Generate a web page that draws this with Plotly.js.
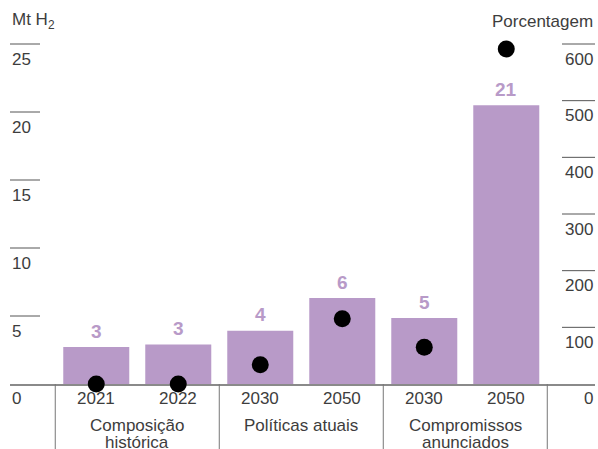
<!DOCTYPE html>
<html>
<head>
<meta charset="utf-8">
<script src="https://cdn.plot.ly/plotly-3.0.1.min.js"></script>
<style>html,body{margin:0;padding:0;background:#fff}#chart{width:598px;height:449px}</style>
</head>
<body>
<div id="chart"></div>
<script>
// ---- data ----
var years = ["2021", "2022", "2030", "2050", "2030", "2050"];
var groups = [["Composição", "histórica"], ["Políticas atuais"], ["Compromissos", "anunciados"]];
var groupSizes = [2, 2, 2];
var hydrogenMt = [2.72, 2.91, 3.92, 6.32, 4.85, 20.5];
var hydrogenLabels = ["3", "3", "4", "6", "5", "21"];
var percentage = [0, 0, 34, 115, 65, 591];
var leftTicks = [5, 10, 15, 20, 25];
var rightTicks = [100, 200, 300, 400, 500, 600];
var leftTitle = "Mt H<sub>2</sub>";
var rightTitle = "Porcentagem";

// ---- style ----
var FONT = "Liberation Sans, Arial, sans-serif";
var TXT = "#3d3d3d";
var PURPLE = "#b89ac8";
var FS = 17;
var idx = years.map(function (_, i) { return i; });

var traces = [
  {
    type: "bar", x: idx, y: hydrogenMt, width: 0.805,
    marker: { color: PURPLE, line: { width: 0 } },
    hoverinfo: "skip", showlegend: false
  },
  {
    type: "scatter", mode: "markers", x: idx, y: percentage, yaxis: "y2",
    marker: { color: "#000", size: 17 }, cliponaxis: false,
    hoverinfo: "skip", showlegend: false
  }
];

var shapes = [], annotations = [];

leftTicks.forEach(function (v) {
  shapes.push({ type: "line", xref: "paper", yref: "y", x0: 0, x1: 30 / 585, y0: v, y1: v, line: { color: "#555", width: 1 } });
  annotations.push({ xref: "paper", yref: "y", x: 0, y: v, xanchor: "left", yanchor: "middle", yshift: -15, text: String(v), showarrow: false, font: { family: FONT, size: FS, color: TXT } });
});
annotations.push({ xref: "paper", yref: "y", x: 0, y: 0, xanchor: "left", yanchor: "middle", yshift: -14, text: "0", showarrow: false, font: { family: FONT, size: FS, color: TXT } });

rightTicks.forEach(function (v) {
  shapes.push({ type: "line", xref: "paper", yref: "y2", x0: 1 - 33 / 585, x1: 1, y0: v, y1: v, line: { color: "#555", width: 1 } });
  annotations.push({ xref: "paper", yref: "y2", x: 1, y: v, xanchor: "right", yanchor: "middle", yshift: -15, text: String(v), showarrow: false, font: { family: FONT, size: FS, color: TXT } });
});
annotations.push({ xref: "paper", yref: "y2", x: 1, y: 0, xanchor: "right", yanchor: "middle", yshift: -14, text: "0", showarrow: false, font: { family: FONT, size: FS, color: TXT } });

// year labels and value labels
years.forEach(function (yr, i) {
  annotations.push({ xref: "x", yref: "y", x: i, y: 0, yanchor: "middle", yshift: -14, text: yr, showarrow: false, font: { family: FONT, size: FS, color: TXT } });
  annotations.push({ xref: "x", yref: "y", x: i, y: hydrogenMt[i], yanchor: "middle", yshift: 16, text: "<b>" + hydrogenLabels[i] + "</b>", showarrow: false, font: { family: FONT, size: 19, color: PURPLE } });
});

// group labels + dividers
var start = 0;
groups.forEach(function (lines, g) {
  var center = start + (groupSizes[g] - 1) / 2;
  lines.forEach(function (ln, k) {
    annotations.push({ xref: "x", yref: "y", x: center, y: 0, yanchor: "middle", yshift: -41 - 17 * k, text: ln, showarrow: false, font: { family: FONT, size: FS, color: TXT } });
  });
  shapes.push({ type: "line", xref: "x", yref: "paper", x0: start - 0.5, x1: start - 0.5, y0: 0, y1: -0.2, line: { color: "#777", width: 1 } });
  start += groupSizes[g];
});
shapes.push({ type: "line", xref: "x", yref: "paper", x0: start - 0.5, x1: start - 0.5, y0: 0, y1: -0.2, line: { color: "#777", width: 1 } });

annotations.push({ xref: "paper", yref: "paper", x: 0, y: 1, xanchor: "left", yanchor: "middle", yshift: 14, text: leftTitle, showarrow: false, font: { family: FONT, size: FS, color: TXT } });
annotations.push({ xref: "paper", yref: "paper", x: 1, y: 1, xanchor: "right", yanchor: "middle", yshift: 14, text: rightTitle, showarrow: false, font: { family: FONT, size: FS, color: TXT } });

var layout = {
  width: 598, height: 449,
  margin: { l: 10, r: 3, t: 35, b: 65, pad: 0 },
  paper_bgcolor: "#fff", plot_bgcolor: "#fff",
  showlegend: false,
  xaxis: {
    range: [-1.052, 6.082], showgrid: false, zeroline: false, showticklabels: false, ticks: "",
    showline: true, linecolor: "#8a8a8a", linewidth: 1.5, layer: "below traces", fixedrange: true
  },
  yaxis: { range: [0, 25 * 349 / 340], showgrid: false, zeroline: false, showticklabels: false, ticks: "", showline: false, fixedrange: true },
  yaxis2: { range: [0, 600 * 349 / 340], overlaying: "y", side: "right", showgrid: false, zeroline: false, showticklabels: false, ticks: "", showline: false, fixedrange: true },
  shapes: shapes,
  annotations: annotations,
  font: { family: FONT, color: TXT }
};

Plotly.newPlot("chart", traces, layout, { staticPlot: true, displayModeBar: false });
</script>
</body>
</html>
